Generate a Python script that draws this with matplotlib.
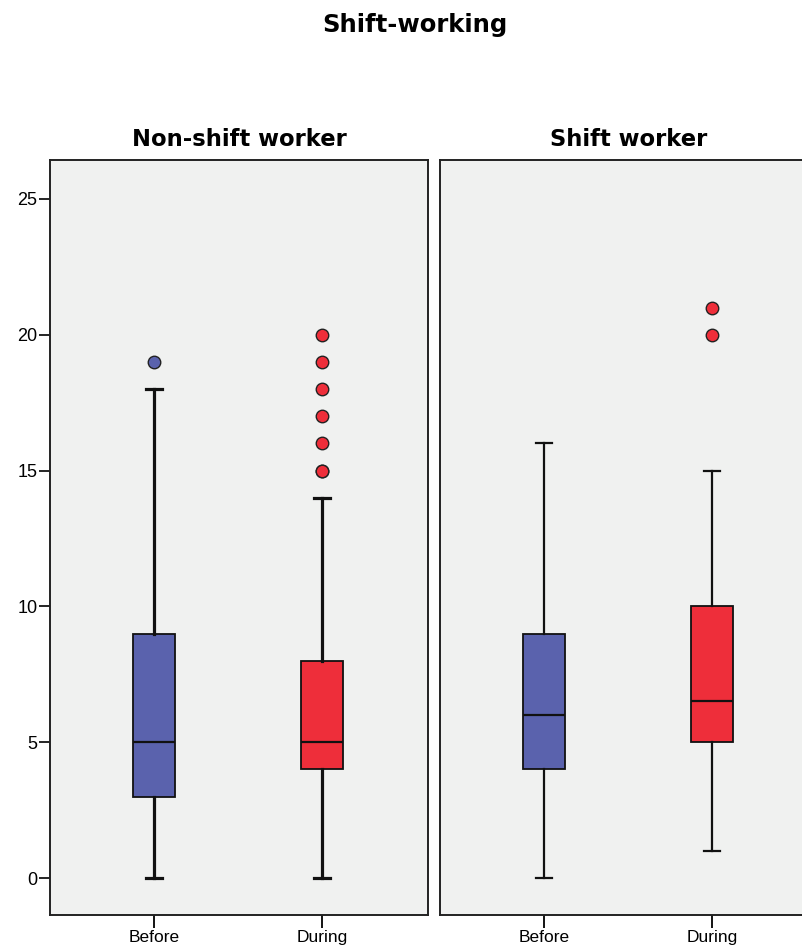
import matplotlib
matplotlib.use("Agg")
import matplotlib.pyplot as plt

# ---- data ----
panels = ["Non-shift worker", "Shift worker"]
categories = ["Before", "During"]
# per panel: [Before, During]
whislo = [[0, 0], [0, 1]]
q1 = [[3, 4], [4, 5]]
med = [[5, 5], [6, 6.5]]
q3 = [[9, 8], [9, 10]]
whishi = [[18, 14], [16, 15]]
fliers = [[[19], [15, 15, 16, 17, 18, 19, 20]], [[], [20, 21]]]
yticks = [0, 5, 10, 15, 20, 25]
title = "Shift-working"

box_colors = ["#5A62AD", "#EE2E3A"]
bg = "#F0F1F0"
W, H = 803, 952
fig = plt.figure(figsize=(W / 100, H / 100), dpi=100)
fig.patch.set_facecolor("white")

label_font = ["Liberation Sans Narrow", "Liberation Sans", "DejaVu Sans"]
title_font = ["DejaVu Sans"]

fig.text(415 / W, 1 - 25 / H, title, ha="center", va="center",
         fontsize=17.5, fontweight="bold", family=title_font)

lefts = [50, 440]
whisk_lw = [2.3, 1.6]
for p in range(2):
    ax = fig.add_axes([lefts[p] / W, 1 - 915 / H, 378 / W, (915 - 160) / H])
    ax.set_facecolor(bg)
    stats = []
    for c in range(2):
        stats.append(dict(whislo=whislo[p][c], q1=q1[p][c], med=med[p][c],
                          q3=q3[p][c], whishi=whishi[p][c],
                          fliers=fliers[p][c], label=categories[c]))
    positions = list(range(len(categories)))
    for c in range(2):
        ax.bxp([stats[c]], positions=[positions[c]], widths=0.25,
               patch_artist=True, capwidths=0.09,
               boxprops=dict(facecolor=box_colors[c], edgecolor="#111111", linewidth=1.3),
               medianprops=dict(color="#111111", linewidth=1.6),
               whiskerprops=dict(color="#111111", linewidth=whisk_lw[p]),
               capprops=dict(color="#111111", linewidth=whisk_lw[p]),
               flierprops=dict(marker="o", markerfacecolor=box_colors[c],
                               markeredgecolor="#222222", markersize=9,
                               markeredgewidth=1.0, linestyle="none"))
    ax.set_xlim(-0.619, 1.631)
    ax.set_ylim(-1.36, 26.43)
    ax.set_xticks(positions)
    ax.set_xticklabels(categories, family=label_font, fontsize=12.5)
    ax.tick_params(axis="x", length=9, width=1.3, direction="out", pad=2)
    if p == 0:
        ax.set_yticks(yticks)
        ax.set_yticklabels([str(v) for v in yticks], family=label_font, fontsize=13)
        ax.tick_params(axis="y", length=8, width=1.2, direction="out", pad=1)
    else:
        ax.set_yticks([])
    for s in ax.spines.values():
        s.set_linewidth(1.4)
        s.set_color("#222222")
    ax.set_title(panels[p], fontsize=16.3, fontweight="bold", family=title_font, pad=10)

fig.savefig("out.png", dpi=100)
